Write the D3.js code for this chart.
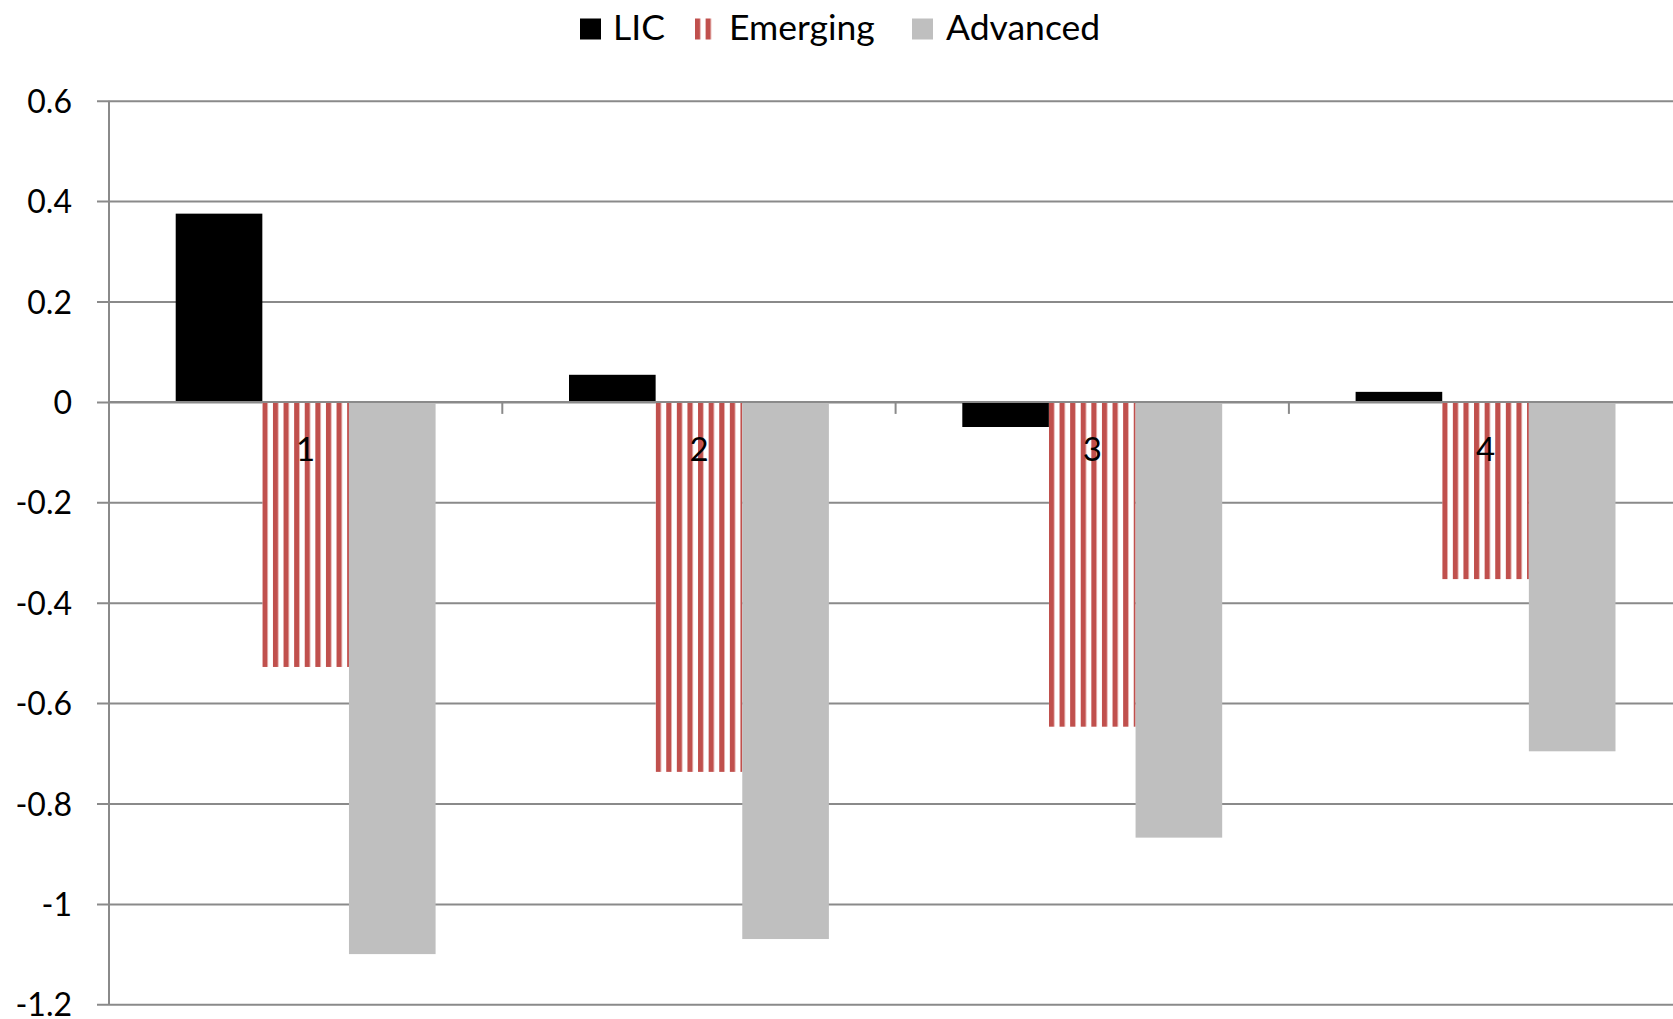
<!DOCTYPE html>
<html>
<head>
<meta charset="utf-8">
<script src="https://cdn.jsdelivr.net/npm/d3@7"></script>
<style>
  html, body { margin: 0; padding: 0; background: #fff; }
  svg { display: block; }
  text { font-family: Lato, "Open Sans", sans-serif; fill: #000; }
</style>
</head>
<body>
<svg id="chart" width="1673" height="1019"></svg>
<script>
// ---- data ----
const categories = ["1", "2", "3", "4"];
const seriesNames = ["LIC", "Emerging", "Advanced"];
const licValues = [0.375, 0.054, -0.05, 0.02];
const emergingValues = [-0.528, -0.737, -0.647, -0.353];
const advancedValues = [-1.1, -1.07, -0.868, -0.696];
const yTicks = [0.6, 0.4, 0.2, 0, -0.2, -0.4, -0.6, -0.8, -1, -1.2];
const yTickLabels = ["0.6", "0.4", "0.2", "0", "-0.2", "-0.4", "-0.6", "-0.8", "-1", "-1.2"];

const seriesValues = { LIC: licValues, Emerging: emergingValues, Advanced: advancedValues };

// ---- layout ----
const W = 1673, H = 1019;
const plotLeft = 109, plotTop = 100.7, plotBottom = 1004.3;
const catStep = 393.3;
const plotRight = plotLeft + catStep * categories.length;

const svg = d3.select("#chart");

const x0 = d3.scaleBand().domain(categories).range([plotLeft, plotRight]).padding(0);
const x1 = d3.scaleBand().domain(seriesNames).range([0, x0.bandwidth()]).paddingInner(0).paddingOuter(0.77);
const y = d3.scaleLinear().domain([-1.2, 0.6]).range([plotBottom, plotTop]);

const gridColor = "#8a8a8a";

// defs: stripe patterns
const defs = svg.append("defs");
const stripePeriod = 10.6, stripeWidth = 5;
function makePattern(id, xOff) {
  const p = defs.append("pattern")
    .attr("id", id)
    .attr("patternUnits", "userSpaceOnUse")
    .attr("x", xOff).attr("y", 0)
    .attr("width", stripePeriod).attr("height", 10);
  p.append("rect").attr("width", stripePeriod).attr("height", 10).attr("fill", "#fff");
  p.append("rect").attr("x", 0).attr("width", stripeWidth).attr("height", 10).attr("fill", "#C0504D");
  p.append("rect").attr("x", stripeWidth).attr("width", 0.8).attr("height", 10).attr("fill", "#E3A9A7");
}

// gridlines
const yAxis = d3.axisLeft(y).tickValues(yTicks)
  .tickFormat((d, i) => yTickLabels[i])
  .tickSize(-(plotRight - plotLeft)).tickPadding(37);
const gy = svg.append("g").attr("transform", `translate(${plotLeft},0)`).call(yAxis);
gy.select(".domain").remove();
gy.selectAll(".tick line").attr("stroke", gridColor).attr("stroke-width", 2).attr("x1", -12);
gy.selectAll(".tick text").attr("font-size", 32).attr("font-family", "Lato, sans-serif").attr("fill", "#000").attr("dy", "0.36em");

// vertical axis line
svg.append("line").attr("x1", plotLeft).attr("x2", plotLeft)
  .attr("y1", y(0.6)).attr("y2", y(-1.2))
  .attr("stroke", gridColor).attr("stroke-width", 2);

// bars
const colors = { LIC: "#000000", Advanced: "#BFBFBF" };
categories.forEach((c, ci) => {
  seriesNames.forEach(s => {
    const v = seriesValues[s][ci];
    const bx = x0(c) + x1(s);
    let fill = colors[s];
    if (s === "Emerging") {
      const pid = "stripe" + ci;
      makePattern(pid, bx);
      fill = `url(#${pid})`;
    }
    svg.append("rect")
      .attr("x", bx)
      .attr("width", x1.bandwidth())
      .attr("y", y(Math.max(0, v)))
      .attr("height", Math.abs(y(v) - y(0)))
      .attr("fill", fill);
  });
});

// category axis at zero
svg.append("line").attr("x1", plotLeft).attr("x2", plotRight)
  .attr("y1", y(0)).attr("y2", y(0))
  .attr("stroke", gridColor).attr("stroke-width", 2);
const boundaries = categories.map(c => x0(c)).concat([plotRight]);
svg.selectAll(".cattick").data(boundaries).enter().append("line")
  .attr("x1", d => d).attr("x2", d => d)
  .attr("y1", y(0)).attr("y2", y(0) + 12)
  .attr("stroke", gridColor).attr("stroke-width", 2);

svg.selectAll(".catlabel").data(categories).enter().append("text")
  .attr("x", d => x0(d) + x0.bandwidth() / 2)
  .attr("y", y(0) + 59)
  .attr("text-anchor", "middle")
  .attr("font-size", 33)
  .text(d => d);

// legend
const legendItems = [
  { name: "LIC", mx: 580, tx: 613 },
  { name: "Emerging", mx: 695, tx: 729 },
  { name: "Advanced", mx: 912, tx: 946 }
];
makePattern("stripeLegend", 695);
const lg = svg.append("g");
legendItems.forEach(it => {
  lg.append("rect").attr("x", it.mx).attr("y", 18.5).attr("width", 21).attr("height", 21)
    .attr("fill", it.name === "Emerging" ? "url(#stripeLegend)" : colors[it.name]);
  lg.append("text").attr("x", it.tx).attr("y", 40).attr("font-size", 35.5).text(it.name);
});
</script>
</body>
</html>
